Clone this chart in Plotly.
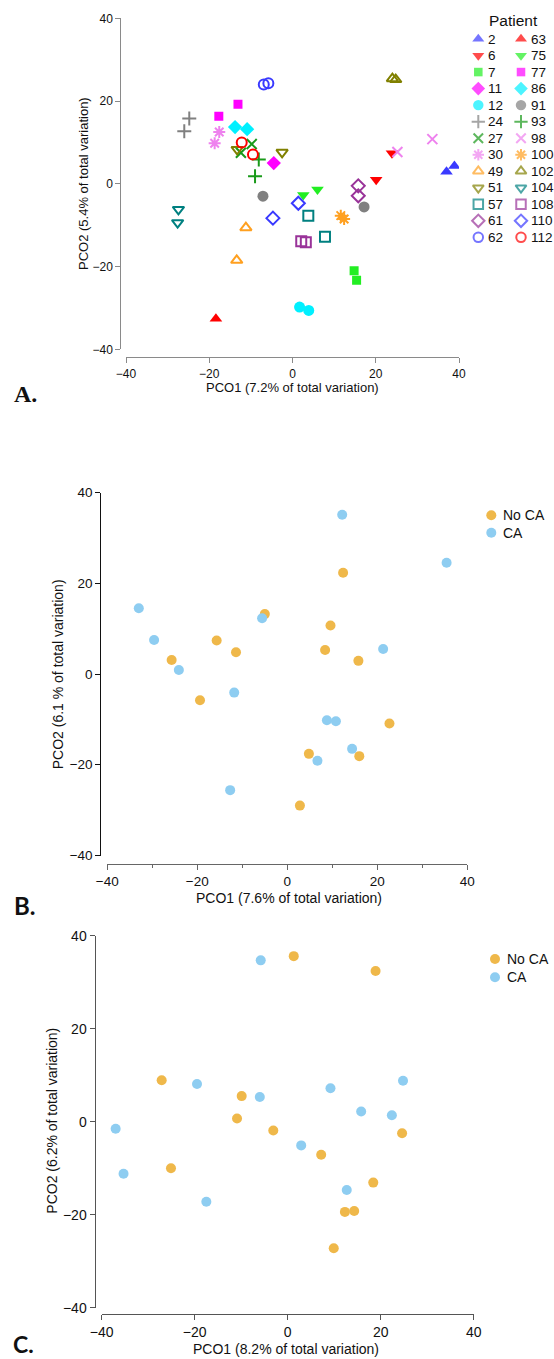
import plotly.graph_objects as go

W, H = 554, 1359

# ---------------- Panel A data ----------------
patients = ["2", "63", "6", "75", "7", "77", "11", "86", "12", "91", "24", "93", "27",
            "98", "30", "100", "49", "102", "51", "104", "57", "108", "61", "110", "62", "112"]
a_x = {
    "2": [37.0, 38.9], "63": [-18.4], "6": [23.9, 20.1], "75": [2.6, 6.0],
    "7": [14.8, 15.4], "77": [-17.7, -13.1], "11": [-4.5], "86": [-13.8, -10.9],
    "12": [1.7, 3.9], "91": [-7.1, 17.2], "24": [-24.8, -26.0], "93": [-8.1, -9.0],
    "27": [-9.8, -12.4], "98": [25.2, 33.6], "30": [-17.6, -18.7], "100": [11.6, 12.4],
    "49": [-11.2, -13.4], "102": [24.0, 24.8], "51": [-13.3, -2.5], "104": [-27.4, -27.6],
    "57": [3.8, 7.8], "108": [2.1, 3.2], "61": [15.8, 15.8], "110": [1.4, -4.7],
    "62": [-6.9, -5.8], "112": [-12.2, -9.5],
}
a_y = {
    "2": [2.9, 4.3], "63": [-32.6], "6": [7.4, 1.0], "75": [-2.7, -1.4],
    "7": [-21.0, -23.3], "77": [16.3, 19.2], "11": [5.0], "86": [13.7, 13.2],
    "12": [-29.8, -30.6], "91": [-3.0, -5.6], "24": [15.8, 12.7], "93": [5.9, 1.8],
    "27": [9.6, 7.5], "98": [7.7, 10.8], "30": [12.5, 9.8], "100": [-7.7, -8.5],
    "49": [-10.6, -18.5], "102": [25.4, 25.2], "51": [8.3, 7.6], "104": [-6.2, -9.4],
    "57": [-7.7, -12.8], "108": [-13.9, -14.1], "61": [-0.5, -2.9], "110": [-4.7, -8.3],
    "62": [24.0, 24.3], "112": [10.0, 7.1],
}
a_symbol = {
    "2": "triangle-up", "63": "triangle-up", "6": "triangle-down", "75": "triangle-down",
    "7": "square", "77": "square", "11": "diamond", "86": "diamond",
    "12": "circle", "91": "circle", "24": "cross-thin", "93": "cross-thin",
    "27": "x-thin", "98": "x-thin", "30": "asterisk", "100": "asterisk",
    "49": "triangle-up-open", "102": "triangle-up-open", "51": "triangle-down-open",
    "104": "triangle-down-open", "57": "square-open", "108": "square-open",
    "61": "diamond-open", "110": "diamond-open", "62": "circle-open", "112": "circle-open",
}
a_color = {
    "2": "#3a3aff", "63": "#ff0000", "6": "#ff0000", "75": "#22ee22",
    "7": "#22ee22", "77": "#ff00ff", "11": "#ff00ff", "86": "#00f0ff",
    "12": "#00f0ff", "91": "#808080", "24": "#808080", "93": "#1a9a1a",
    "27": "#1a9a1a", "98": "#ee82ee", "30": "#ee82ee", "100": "#ffa020",
    "49": "#ffa020", "102": "#808000", "51": "#808000", "104": "#008080",
    "57": "#008080", "108": "#993399", "61": "#993399", "110": "#3a3aff",
    "62": "#3a3aff", "112": "#ff0000",
}

# ---------------- Panel B data ----------------
b_noca_x = [-25.7, -19.4, -15.7, -11.4, -5.0, 12.4, 9.6, 8.4, 15.8, 22.7, 4.8, 16.0, 2.8]
b_noca_y = [3.1, -5.8, 7.4, 4.8, 13.2, 22.3, 10.7, 5.3, 2.9, -10.9, -17.6, -18.1, -29.0]
b_ca_x = [-33.0, -29.6, -24.1, -11.8, -5.6, 12.2, 35.4, 21.3, 8.8, 10.8, 6.7, 14.4, -12.7]
b_ca_y = [14.5, 7.5, 0.9, -4.1, 12.3, 35.1, 24.5, 5.5, -10.2, -10.4, -19.1, -16.5, -25.6]

# ---------------- Panel C data ----------------
c_noca_x = [1.3, 18.9, -27.1, -9.9, -10.9, -3.1, 24.6, 7.2, -25.1, 18.4, 12.3, 14.3, 9.9]
c_noca_y = [35.6, 32.4, 8.9, 5.5, 0.7, -1.9, -2.5, -7.1, -10.0, -13.1, -19.4, -19.2, -27.2]
c_ca_x = [-5.8, -19.5, -6.0, -37.0, 2.9, 9.2, 24.8, 15.8, 22.4, -35.3, -17.5, 12.7]
c_ca_y = [34.7, 8.1, 5.3, -1.5, -5.1, 7.2, 8.8, 2.2, 1.4, -11.2, -17.2, -14.7]

group_names = ["No CA", "CA"]
group_colors = ["#efb84a", "#8ecdf1"]

ticks = [-40, -20, 0, 20, 40]
FONT = "Liberation Sans, Arial, sans-serif"
TXT = "#111111"


def is_thin(sym):
    return sym.endswith("-thin") or sym == "asterisk" or sym.endswith("-open")


def marker_for(p, scale=1.0):
    sym = a_symbol[p]
    thin = is_thin(sym)
    size = 10 if thin else 11
    if sym == "square":
        size = 9
    return dict(symbol=sym, color=a_color[p], size=size * scale,
                line=dict(width=2 if thin else 0, color=a_color[p]))


fig = go.Figure()

# Panel A scatter
for p in patients:
    fig.add_trace(go.Scatter(x=a_x[p], y=a_y[p], mode="markers", name=p,
                             xaxis="x", yaxis="y", marker=marker_for(p), showlegend=False))

# Panel B / C scatter
for name, col, xs, ys in [(group_names[0], group_colors[0], b_noca_x, b_noca_y),
                          (group_names[1], group_colors[1], b_ca_x, b_ca_y)]:
    fig.add_trace(go.Scatter(x=xs, y=ys, mode="markers", name=name, xaxis="x2", yaxis="y2",
                             showlegend=False, marker=dict(size=10, color=col, line=dict(width=0))))
for name, col, xs, ys in [(group_names[0], group_colors[0], c_noca_x, c_noca_y),
                          (group_names[1], group_colors[1], c_ca_x, c_ca_y)]:
    fig.add_trace(go.Scatter(x=xs, y=ys, mode="markers", name=name, xaxis="x3", yaxis="y3",
                             showlegend=False, marker=dict(size=10, color=col, line=dict(width=0))))

# ---------------- Legend keys (drawn on small helper axes, rows/columns by index) --------
leg_cols = [i % 2 for i in range(len(patients))]
leg_rows = [i // 2 for i in range(len(patients))]
ms = [marker_for(p) for p in patients]
fig.add_trace(go.Scatter(
    x=leg_cols, y=leg_rows, mode="markers", xaxis="x4", yaxis="y4", showlegend=False,
    hoverinfo="skip",
    marker=dict(symbol=[m["symbol"] for m in ms], color=[m["color"] for m in ms],
                size=[m["size"] * 0.95 for m in ms],
                line=dict(width=[m["line"]["width"] for m in ms],
                          color=[m["line"]["color"] for m in ms]))))
grp_rows = list(range(len(group_names)))
for xa, ya in [("x5", "y5"), ("x6", "y6")]:
    fig.add_trace(go.Scatter(x=[0] * len(group_names), y=grp_rows, mode="markers",
                             xaxis=xa, yaxis=ya, showlegend=False, hoverinfo="skip",
                             marker=dict(size=10, color=group_colors, line=dict(width=0))))


def px_x(px):
    return px / W


def px_y(py):
    return 1 - py / H


def xax(d0, d1, pos, color, size, minor=False):
    ax = dict(domain=[px_x(d0), px_x(d1)], range=[-40, 40], anchor="free", position=px_y(pos),
              showline=True, linecolor=color, linewidth=1, ticks="outside", ticklen=5,
              tickcolor=color, tickvals=ticks, showgrid=False, zeroline=False,
              tickfont=dict(family=FONT, size=size, color=TXT), fixedrange=True)
    if minor:
        ax["minor"] = dict(dtick=10, tick0=0, ticks="outside", ticklen=3, tickcolor=color,
                           showgrid=False)
    return ax


def yax(d0, d1, pos, color, size):
    return dict(domain=[px_y(d1), px_y(d0)], range=[-40, 40], anchor="free", position=px_x(pos),
                showline=True, linecolor=color, linewidth=1, ticks="outside", ticklen=5,
                tickcolor=color, tickvals=ticks, showgrid=False, zeroline=False,
                tickfont=dict(family=FONT, size=size, color=TXT), fixedrange=True)


def key_xaxis(d0, d1, p0, step):
    a = -(p0 - d0) / step
    b = a + (d1 - d0) / step
    return dict(domain=[px_x(d0), px_x(d1)], range=[a, b], visible=False, fixedrange=True,
                anchor="free", position=0)


def key_yaxis(t, u, p0, step):
    top = -(p0 - t) / step
    bottom = top + (u - t) / step
    return dict(domain=[px_y(u), px_y(t)], range=[bottom, top], visible=False, fixedrange=True,
                anchor="free", position=0)


fig.update_layout(
    width=W, height=H, margin=dict(l=0, r=0, t=0, b=0, autoexpand=False),
    paper_bgcolor="white", plot_bgcolor="white", showlegend=False,
    font=dict(family=FONT, color=TXT),
    xaxis=xax(126, 459, 357.3, "#8a8a8a", 12),
    yaxis=yax(18.3, 349.3, 120.3, "#8a8a8a", 12),
    xaxis2=xax(107.3, 467.3, 863.7, "#666666", 13.5, minor=True),
    yaxis2=yax(492.5, 855.5, 100.3, "#111111", 13.5),
    xaxis3=xax(101.7, 473.7, 1314.3, "#555555", 14),
    yaxis3=yax(935.7, 1307.7, 94.5, "#555555", 14),
    xaxis4=key_xaxis(468, 554, 478.3, 42.7),
    yaxis4=key_yaxis(30, 246, 39, 16.53),
    xaxis5=key_xaxis(482, 554, 491.3, 40),
    yaxis5=key_yaxis(505, 545, 515.3, 17.4),
    xaxis6=key_xaxis(485, 554, 495, 40),
    yaxis6=key_yaxis(949, 989, 959, 18.3),
)

ann = []


def add_text(text, x, y, size, angle=0, family=FONT, bold=False, xanchor="center",
             yanchor="middle"):
    ann.append(dict(text=f"<b>{text}</b>" if bold else text, x=px_x(x), y=px_y(y),
                    xref="paper", yref="paper", showarrow=False, textangle=angle,
                    xanchor=xanchor, yanchor=yanchor, borderpad=0,
                    font=dict(family=family, size=size, color=TXT)))


# legend labels
for p, c, r in zip(patients, leg_cols, leg_rows):
    ann.append(dict(text=p, x=c, y=r, xref="x4", yref="y4", showarrow=False,
                    xanchor="left", yanchor="middle", xshift=9, borderpad=0,
                    font=dict(family=FONT, size=13.5, color=TXT)))
for xa, ya in [("x5", "y5"), ("x6", "y6")]:
    for g, r in zip(group_names, grp_rows):
        ann.append(dict(text=g, x=0, y=r, xref=xa, yref=ya, showarrow=False,
                        xanchor="left", yanchor="middle", xshift=11, borderpad=0,
                        font=dict(family=FONT, size=14, color=TXT)))

add_text("Patient", 513.3, 21, 15.5)
add_text("PCO1 (7.2% of total variation)", 292.7, 387.3, 13)
add_text("PCO2 (5.4% of total variation)", 83.3, 183.7, 13, angle=-90)
add_text("PCO1 (7.6% of total variation)", 288.7, 897.7, 14)
add_text("PCO2 (6.1 % of total variation)", 58.3, 674, 14, angle=-90)
add_text("PCO1 (8.2% of total variation)", 286, 1349.3, 14)
add_text("PCO2 (6.2% of total variation)", 51.7, 1121, 14, angle=-90)
add_text("A.", 12.7, 394, 24, family="Liberation Serif, Times New Roman, serif", bold=True,
         xanchor="left")
add_text("B.", 12.5, 905, 24, family="Lato, Open Sans, sans-serif", bold=True, xanchor="left")
add_text("C.", 12, 1359, 23, family="Lato, Open Sans, sans-serif", bold=True, xanchor="left",
         yanchor="bottom")
fig.update_layout(annotations=ann)

# remove the default page margin so the figure starts at the window's top-left corner
fig.write_html("out.html", config={"displayModeBar": False},
               post_script="document.body.style.margin='0';document.body.style.padding='0';"
                           "document.body.style.overflow='hidden';")
